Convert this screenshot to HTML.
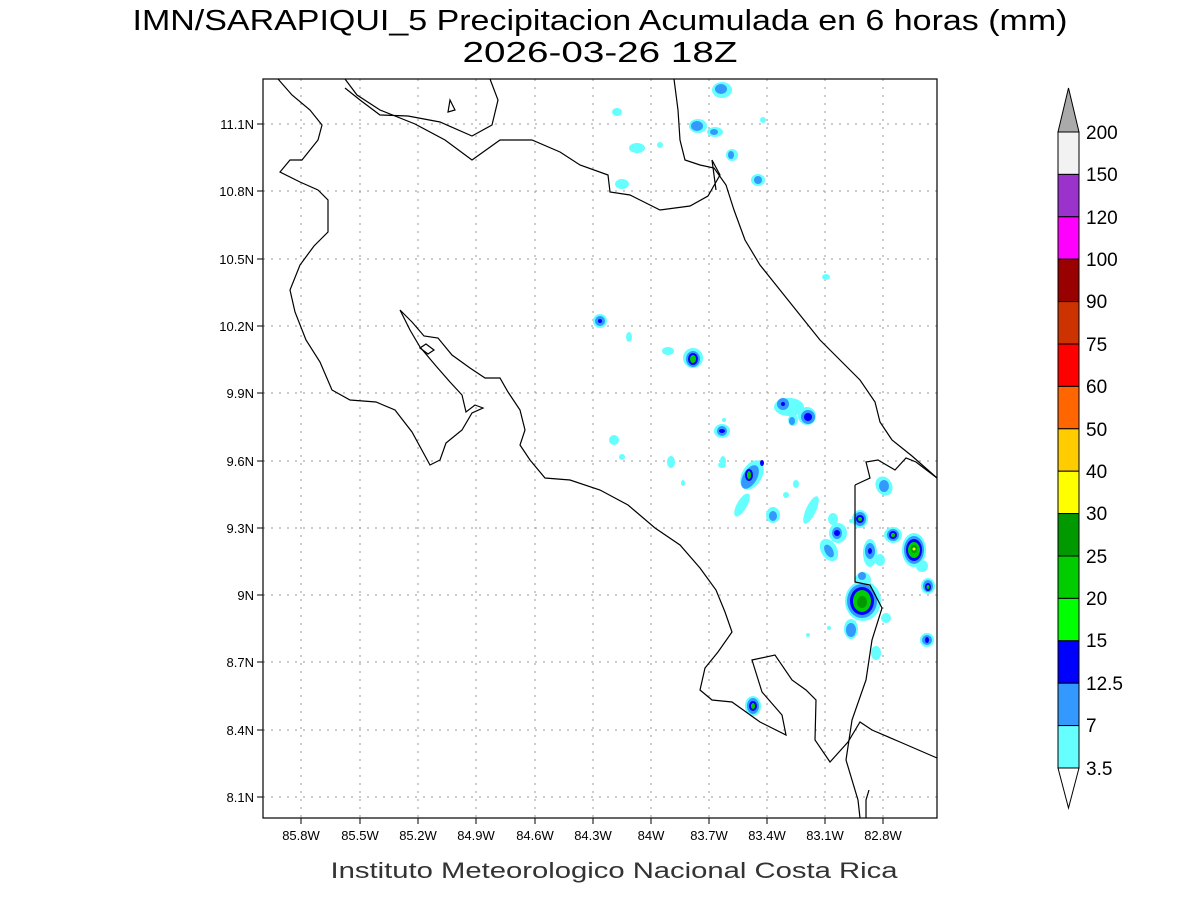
<!DOCTYPE html>
<html><head><meta charset="utf-8"><style>html,body{margin:0;padding:0;background:#fff}svg{display:block}</style></head>
<body>
<svg width="1200" height="900" viewBox="0 0 1200 900" xmlns="http://www.w3.org/2000/svg" font-family="Liberation Sans, sans-serif">
<rect width="1200" height="900" fill="#fff"/>
<text x="600" y="30" text-anchor="middle" font-size="29" textLength="935" lengthAdjust="spacingAndGlyphs" fill="#000">IMN/SARAPIQUI_5 Precipitacion Acumulada en 6 horas (mm)</text>
<text x="600" y="62" text-anchor="middle" font-size="29" textLength="275" lengthAdjust="spacingAndGlyphs" fill="#000">2026-03-26 18Z</text>

<g stroke="#999" stroke-width="1" stroke-dasharray="2,6">
<line x1="301" y1="79" x2="301" y2="818"/><line x1="360" y1="79" x2="360" y2="818"/><line x1="418" y1="79" x2="418" y2="818"/><line x1="476" y1="79" x2="476" y2="818"/><line x1="535" y1="79" x2="535" y2="818"/><line x1="593" y1="79" x2="593" y2="818"/><line x1="651" y1="79" x2="651" y2="818"/><line x1="709" y1="79" x2="709" y2="818"/><line x1="767" y1="79" x2="767" y2="818"/><line x1="825" y1="79" x2="825" y2="818"/><line x1="883" y1="79" x2="883" y2="818"/>
<line x1="263" y1="124" x2="937" y2="124"/><line x1="263" y1="191" x2="937" y2="191"/><line x1="263" y1="259" x2="937" y2="259"/><line x1="263" y1="326" x2="937" y2="326"/><line x1="263" y1="393" x2="937" y2="393"/><line x1="263" y1="461" x2="937" y2="461"/><line x1="263" y1="528" x2="937" y2="528"/><line x1="263" y1="595" x2="937" y2="595"/><line x1="263" y1="662" x2="937" y2="662"/><line x1="263" y1="730" x2="937" y2="730"/><line x1="263" y1="797" x2="937" y2="797"/>
</g>
<g stroke="#000" stroke-width="1">
<line x1="301" y1="818" x2="301" y2="824"/><line x1="360" y1="818" x2="360" y2="824"/><line x1="418" y1="818" x2="418" y2="824"/><line x1="476" y1="818" x2="476" y2="824"/><line x1="535" y1="818" x2="535" y2="824"/><line x1="593" y1="818" x2="593" y2="824"/><line x1="651" y1="818" x2="651" y2="824"/><line x1="709" y1="818" x2="709" y2="824"/><line x1="767" y1="818" x2="767" y2="824"/><line x1="825" y1="818" x2="825" y2="824"/><line x1="883" y1="818" x2="883" y2="824"/>
<line x1="257" y1="124" x2="263" y2="124"/><line x1="257" y1="191" x2="263" y2="191"/><line x1="257" y1="259" x2="263" y2="259"/><line x1="257" y1="326" x2="263" y2="326"/><line x1="257" y1="393" x2="263" y2="393"/><line x1="257" y1="461" x2="263" y2="461"/><line x1="257" y1="528" x2="263" y2="528"/><line x1="257" y1="595" x2="263" y2="595"/><line x1="257" y1="662" x2="263" y2="662"/><line x1="257" y1="730" x2="263" y2="730"/><line x1="257" y1="797" x2="263" y2="797"/>
</g>

<g>
<g fill="#66ffff">
<ellipse cx="617" cy="112" rx="5" ry="4"/><ellipse cx="637" cy="148" rx="8" ry="5"/><ellipse cx="622" cy="184" rx="7" ry="5"/><ellipse cx="660" cy="145" rx="3" ry="3"/>
<ellipse cx="722" cy="90" rx="10" ry="8"/><ellipse cx="698" cy="126" rx="9" ry="7"/><ellipse cx="715" cy="132" rx="8" ry="5"/><ellipse cx="732" cy="155" rx="6" ry="6"/><ellipse cx="758" cy="180" rx="7" ry="6"/>
<ellipse cx="763" cy="120" rx="3" ry="3"/><ellipse cx="826" cy="277" rx="4" ry="3"/>
<ellipse cx="600" cy="321" rx="7" ry="7"/><ellipse cx="629" cy="337" rx="3" ry="5"/><ellipse cx="668" cy="351" rx="6" ry="4"/><ellipse cx="693" cy="358" rx="10" ry="10"/>
<ellipse cx="614" cy="440" rx="5" ry="5"/><ellipse cx="622" cy="457" rx="3" ry="3"/><ellipse cx="671" cy="462" rx="4" ry="6"/><ellipse cx="722" cy="431" rx="8" ry="7"/><ellipse cx="723" cy="461" rx="3" ry="5"/>
<ellipse cx="724" cy="420" rx="2" ry="2"/><ellipse cx="683" cy="483" rx="2" ry="3"/>
<ellipse cx="789" cy="407" rx="15" ry="9"/><ellipse cx="807" cy="416" rx="9" ry="9"/><ellipse cx="793" cy="420" rx="5" ry="6"/><ellipse cx="722" cy="465" rx="4" ry="3"/>
<ellipse cx="752" cy="475" rx="10" ry="16" transform="rotate(30 752 475)"/><ellipse cx="742" cy="505" rx="5" ry="13" transform="rotate(30 742 505)"/><ellipse cx="773" cy="515" rx="7" ry="8"/><ellipse cx="796" cy="484" rx="3" ry="4"/><ellipse cx="786" cy="495" rx="3" ry="3"/>
<ellipse cx="811" cy="510" rx="5" ry="15" transform="rotate(25 811 510)"/><ellipse cx="833" cy="519" rx="5" ry="6"/><ellipse cx="838" cy="533" rx="9" ry="10"/><ellipse cx="829" cy="550" rx="8" ry="12" transform="rotate(-30 829 550)"/><ellipse cx="851" cy="521" rx="2" ry="2"/>
<ellipse cx="860" cy="519" rx="8" ry="9"/><ellipse cx="870" cy="553" rx="7" ry="14"/><ellipse cx="863" cy="580" rx="8" ry="8"/><ellipse cx="880" cy="560" rx="5" ry="6"/>
<ellipse cx="884" cy="486" rx="8" ry="10" transform="rotate(-30 884 486)"/><ellipse cx="893" cy="535" rx="9" ry="8"/><ellipse cx="914" cy="550" rx="12" ry="17"/><ellipse cx="922" cy="566" rx="6" ry="6"/><ellipse cx="928" cy="586" rx="7" ry="8"/>
<ellipse cx="863" cy="601" rx="18" ry="20"/><ellipse cx="886" cy="618" rx="5" ry="5"/><ellipse cx="851" cy="629" rx="7" ry="10"/><ellipse cx="829" cy="628" rx="2" ry="2"/><ellipse cx="808" cy="635" rx="2" ry="2"/><ellipse cx="876" cy="653" rx="5" ry="7"/>
<ellipse cx="927" cy="640" rx="7" ry="7"/><ellipse cx="753" cy="706" rx="8" ry="10"/>
</g>
<g fill="#3399ff">
<ellipse cx="721" cy="89" rx="6" ry="5"/><ellipse cx="697" cy="126" rx="6" ry="5"/><ellipse cx="714" cy="132" rx="4" ry="3"/><ellipse cx="731" cy="155" rx="3" ry="4"/><ellipse cx="758" cy="180" rx="4" ry="4"/>
<ellipse cx="600" cy="321" rx="5" ry="5"/><ellipse cx="693" cy="359" rx="7" ry="8"/><ellipse cx="722" cy="431" rx="5" ry="5"/><ellipse cx="783" cy="404" rx="6" ry="6"/><ellipse cx="808" cy="417" rx="7" ry="7"/><ellipse cx="792" cy="421" rx="3" ry="4"/>
<ellipse cx="750" cy="477" rx="7" ry="13" transform="rotate(30 750 477)"/><ellipse cx="773" cy="516" rx="4" ry="5"/><ellipse cx="837" cy="533" rx="5" ry="6"/><ellipse cx="829" cy="551" rx="4" ry="7" transform="rotate(-30 829 551)"/>
<ellipse cx="860" cy="519" rx="6" ry="7"/><ellipse cx="870" cy="551" rx="5" ry="8"/><ellipse cx="862" cy="576" rx="4" ry="4"/><ellipse cx="884" cy="486" rx="5" ry="6"/><ellipse cx="893" cy="535" rx="6" ry="6"/><ellipse cx="914" cy="550" rx="10" ry="14"/><ellipse cx="928" cy="586" rx="5" ry="6"/>
<ellipse cx="862" cy="601" rx="15" ry="17"/><ellipse cx="851" cy="630" rx="5" ry="7"/><ellipse cx="927" cy="640" rx="5" ry="5"/><ellipse cx="753" cy="706" rx="6" ry="8"/>
</g>
<g fill="#0000ff">
<ellipse cx="600" cy="321" rx="2" ry="2"/><ellipse cx="693" cy="359" rx="5" ry="6"/><ellipse cx="722" cy="431" rx="3" ry="2"/><ellipse cx="783" cy="404" rx="2" ry="2"/><ellipse cx="808" cy="417" rx="4" ry="4"/>
<ellipse cx="749" cy="475" rx="4" ry="6"/><ellipse cx="762" cy="463" rx="2" ry="3"/><ellipse cx="837" cy="533" rx="3" ry="3"/><ellipse cx="860" cy="519" rx="4" ry="4"/><ellipse cx="870" cy="551" rx="2" ry="3"/><ellipse cx="893" cy="535" rx="4" ry="4"/>
<ellipse cx="914" cy="550" rx="8" ry="11"/><ellipse cx="928" cy="587" rx="3" ry="4"/><ellipse cx="862" cy="601" rx="12" ry="14"/><ellipse cx="753" cy="706" rx="4" ry="5"/><ellipse cx="927" cy="640" rx="2" ry="3"/>
</g>
<g fill="#00cc00">
<ellipse cx="693" cy="359" rx="3" ry="4"/><ellipse cx="749" cy="475" rx="2" ry="4"/><ellipse cx="860" cy="519" rx="2" ry="2"/><ellipse cx="893" cy="535" rx="2" ry="2"/><ellipse cx="914" cy="550" rx="6" ry="8"/><ellipse cx="928" cy="587" rx="1.5" ry="2"/><ellipse cx="862" cy="601" rx="9" ry="11"/><ellipse cx="753" cy="706" rx="2" ry="3"/>
</g>
<g fill="#009900"><ellipse cx="862" cy="602" rx="5" ry="6"/><ellipse cx="914" cy="549" rx="3" ry="4"/></g>
<ellipse cx="914" cy="549" rx="1.5" ry="1.5" fill="#ffff00"/>
</g>

<g fill="none" stroke="#000" stroke-width="1.2">
<path d="M278,79 L292,95 L310,110 L322,125 L318,140 L302,160 L290,160 L280,172 L300,182 L318,190 L328,200 L328,232 L314,246 L300,265 L290,290 L295,312 L306,340 L320,362 L332,390 L350,400 L376,402 L395,410 L412,432 L430,465 L440,460 L446,443 L462,430 L472,413 L483,408 L475,405 L466,412 L462,395 L450,382 L436,366 L420,347 L410,330 L400,310 L412,322 L424,336 L438,338 L452,355 L470,368 L485,378 L500,378 L508,392 L520,410 L525,430 L520,445 L530,460 L545,478 L570,480 L600,490 L628,505 L655,528 L680,545 L700,568 L716,590 L725,612 L732,632 L718,652 L705,668 L700,690 L712,700 L732,702 L760,722 L786,735 L782,715 L762,692 L752,660 L775,655 L792,680 L806,690 L816,700 L815,740 L830,762 L848,742 L860,722 L872,730 L900,742 L937,758"/>
<path d="M345,79 L357,95 L380,110 L415,124 L445,140 L472,160 L500,140 L532,140 L560,152 L580,165 L608,175 L610,192 L630,195 L660,210 L690,206 L708,196 L720,175 L712,160 L716,190"/>
<path d="M490,79 L498,100 L492,125 L472,136 L440,122 L408,116 L380,115 L360,100 L345,88"/>
<path d="M674,79 L678,110 L680,140 L685,160 L700,165 L714,168 L726,185 L734,210 L745,240 L760,265 L780,290 L800,315 L820,340 L840,360 L860,380 L875,402 L880,422 L892,440 L912,456 L937,478"/>
<path d="M855,485 L855,582 L870,585 L882,608 L872,640 L866,680 L852,720 L846,760 L858,800 L860,818 M866,818 L866,800 L869,790"/>
<path d="M855,485 L870,478 L866,462 L878,460 L895,470 L906,458 L916,462 L937,478"/>
<path d="M420,348 L426,344 L434,350 L428,354 Z"/>
<path d="M450,100 L455,110 L448,112 Z"/>
</g>
<rect x="263" y="79" width="674" height="739" fill="none" stroke="#000" stroke-width="1.2"/>

<g font-size="13" fill="#000" text-anchor="end">
<text x="254" y="129">11.1N</text><text x="254" y="196">10.8N</text><text x="254" y="264">10.5N</text><text x="254" y="331">10.2N</text><text x="254" y="398">9.9N</text><text x="254" y="466">9.6N</text><text x="254" y="533">9.3N</text><text x="254" y="600">9N</text><text x="254" y="667">8.7N</text><text x="254" y="735">8.4N</text><text x="254" y="802">8.1N</text>
</g>
<g font-size="13" fill="#000" text-anchor="middle">
<text x="301" y="840">85.8W</text><text x="360" y="840">85.5W</text><text x="418" y="840">85.2W</text><text x="476" y="840">84.9W</text><text x="535" y="840">84.6W</text><text x="593" y="840">84.3W</text><text x="651" y="840">84W</text><text x="709" y="840">83.7W</text><text x="767" y="840">83.4W</text><text x="825" y="840">83.1W</text><text x="883" y="840">82.8W</text>
</g>
<text x="614" y="878" text-anchor="middle" font-size="22" fill="#333" textLength="567" lengthAdjust="spacingAndGlyphs">Instituto Meteorologico Nacional Costa Rica</text>

<g stroke="#000" stroke-width="1">
<polygon points="1058,132 1079,132 1068.5,88" fill="#aaaaaa"/>
<rect x="1058" y="132" width="21" height="42.4" fill="#f2f2f2"/>
<rect x="1058" y="174.4" width="21" height="42.4" fill="#9933cc"/>
<rect x="1058" y="216.8" width="21" height="42.4" fill="#ff00ff"/>
<rect x="1058" y="259.2" width="21" height="42.4" fill="#990000"/>
<rect x="1058" y="301.6" width="21" height="42.4" fill="#cc3300"/>
<rect x="1058" y="344" width="21" height="42.4" fill="#ff0000"/>
<rect x="1058" y="386.4" width="21" height="42.4" fill="#ff6600"/>
<rect x="1058" y="428.8" width="21" height="42.4" fill="#ffcc00"/>
<rect x="1058" y="471.2" width="21" height="42.4" fill="#ffff00"/>
<rect x="1058" y="513.6" width="21" height="42.4" fill="#009900"/>
<rect x="1058" y="556" width="21" height="42.4" fill="#00cc00"/>
<rect x="1058" y="598.4" width="21" height="42.4" fill="#00ff00"/>
<rect x="1058" y="640.8" width="21" height="42.4" fill="#0000ff"/>
<rect x="1058" y="683.2" width="21" height="42.4" fill="#3399ff"/>
<rect x="1058" y="725.6" width="21" height="42.4" fill="#66ffff"/>
<polygon points="1058,768 1079,768 1068.5,808" fill="#ffffff"/>
</g>
<g font-size="19" fill="#000">
<text x="1086" y="139">200</text><text x="1086" y="181">150</text><text x="1086" y="224">120</text><text x="1086" y="266">100</text><text x="1086" y="308">90</text><text x="1086" y="351">75</text><text x="1086" y="393">60</text><text x="1086" y="436">50</text><text x="1086" y="478">40</text><text x="1086" y="520">30</text><text x="1086" y="563">25</text><text x="1086" y="605">20</text><text x="1086" y="647">15</text><text x="1086" y="690">12.5</text><text x="1086" y="732">7</text><text x="1086" y="775">3.5</text>
</g>
</svg>
</body></html>
